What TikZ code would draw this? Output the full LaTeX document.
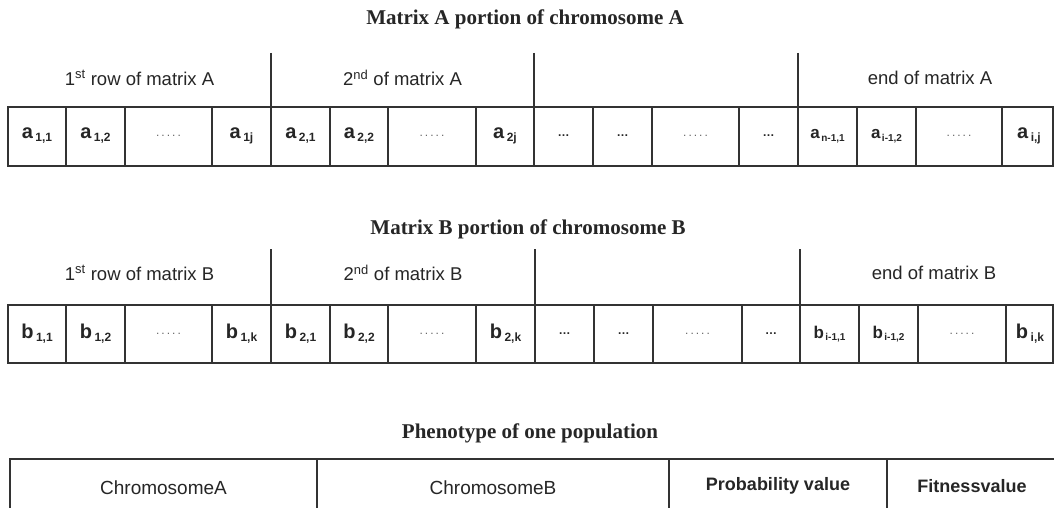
\documentclass[tikz,border=0pt]{standalone}
\usepackage{fontspec}
\setmainfont{Liberation Serif}
\setsansfont{Liberation Sans}

\newcommand{\gene}[2]{{\fontsize{20}{20}\selectfont #1}\kern2.5pt\raisebox{-0.55ex}{\fontsize{12}{12}\selectfont #2}}
\newcommand{\genesm}[2]{{\fontsize{17}{17}\selectfont #1}\kern1.5pt\raisebox{-0.5ex}{\fontsize{10}{10}\selectfont #2}}
\newcommand{\fivedots}{{\fontsize{12}{12}\selectfont\mdseries\color{black!60}.\,.\,.\,.\,.}}
\newcommand{\threedots}{{\fontsize{12}{12}\selectfont\ldots}}

\begin{document}
\begin{tikzpicture}[x=1pt,y=-1pt,
  title/.style={font=\fontsize{21}{21}\selectfont\bfseries, text=black!85},
  head/.style={font=\sffamily\fontsize{18.5}{18.5}\selectfont, text=black!85},
  cell/.style={font=\sffamily\bfseries, text=black!85},
  pheno/.style={font=\sffamily\fontsize{19}{19}\selectfont, text=black!85},
  rule/.style={line width=1.2pt, black!80}]

\clip (0,0) rectangle (1054,508);
\fill[white] (0,0) rectangle (1054,508);

% chromosome A
\node[title] (titleA) at (525,19) {Matrix A portion of chromosome A};
\draw[rule] (8,107) rectangle (1053,166);
\foreach \x in {66,125,212,330,388,476,593,652,739,857,916,1002}
  \draw[rule] (\x,107) -- (\x,166);
\foreach \x in {271,534,798}
  \draw[rule] (\x,53) -- (\x,166);

\node[head] (headA1) at (139.5,78) {1\textsuperscript{st} row of matrix A};
\node[head] (headA2) at (402.5,78) {2\textsuperscript{nd} of matrix A};
\node[head] (headA4) at (930,78) {end of matrix A};

\foreach \c/\t [count=\i] in {37/{\gene{a}{1,1}}, 95.5/{\gene{a}{1,2}}, 168.5/{\fivedots},
    241.5/{\gene{a}{1j}}, 300.5/{\gene{a}{2,1}}, 359/{\gene{a}{2,2}}, 432/{\fivedots},
    505/{\gene{a}{2j}}, 563.5/{\threedots}, 622.5/{\threedots}, 695.5/{\fivedots},
    768.5/{\threedots}, 827.5/{\genesm{a}{n-1,1}}, 886.5/{\genesm{a}{i-1,2}},
    959/{\fivedots}, 1029/{\gene{a}{i,j}}}
  \node[cell] (a\i) at (\c,136) {\t};

% chromosome B
\node[title] (titleB) at (528,229) {Matrix B portion of chromosome B};
\draw[rule] (8,305) rectangle (1053,363);
\foreach \x in {66,125,212,330,388,476,594,653,742,859,918,1006}
  \draw[rule] (\x,305) -- (\x,363);
\foreach \x in {271,535,800}
  \draw[rule] (\x,249) -- (\x,363);

\node[head] (headB1) at (139.5,273) {1\textsuperscript{st} row of matrix B};
\node[head] (headB2) at (403,273) {2\textsuperscript{nd} of matrix B};
\node[head] (headB4) at (934,273) {end of matrix B};

\foreach \c/\t [count=\i] in {37/{\gene{b}{1,1}}, 95.5/{\gene{b}{1,2}}, 168.5/{\fivedots},
    241.5/{\gene{b}{1,k}}, 300.5/{\gene{b}{2,1}}, 359/{\gene{b}{2,2}}, 432/{\fivedots},
    505.5/{\gene{b}{2,k}}, 564.5/{\threedots}, 623.5/{\threedots}, 697.5/{\fivedots},
    771/{\threedots}, 829.5/{\genesm{b}{i-1,1}}, 888.5/{\genesm{b}{i-1,2}},
    962/{\fivedots}, 1030/{\gene{b}{i,k}}}
  \node[cell] (b\i) at (\c,334) {\t};

% phenotype
\node[title] (titleP) at (530,433) {Phenotype of one population};
\draw[rule] (10,459) rectangle (1070,530);
\foreach \x in {317,669,887}
  \draw[rule] (\x,459) -- (\x,530);

\node[pheno] (chromA) at (163.5,488) {ChromosomeA};
\node[pheno] (chromB) at (493,488) {ChromosomeB};
\node[pheno, font=\sffamily\bfseries\fontsize{18}{18}\selectfont] (prob) at (778,486) {Probability value};
\node[pheno, font=\sffamily\bfseries\fontsize{18}{18}\selectfont] (fit) at (972,486) {Fitnessvalue};

\end{tikzpicture}
\end{document}
